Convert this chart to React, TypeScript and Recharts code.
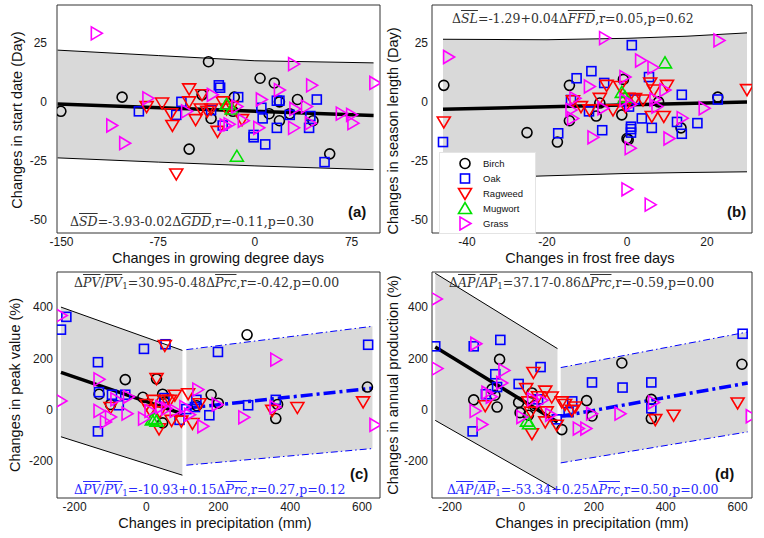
import React from 'react';
import { ComposedChart, Scatter, Line, Area, XAxis, YAxis, ReferenceArea } from 'recharts';

type P = [number, number];
type B = [number, number, number]; // x, lower, upper

const SPECIES = ['Birch', 'Oak', 'Ragweed', 'Mugwort', 'Grass'];
const COLORS = ['#000000', '#0000ff', '#ff0000', '#00e000', '#ff00ff'];
const SHAPES = ['o', 's', 'v', '^', '>'];

// (a) start date vs growing degree days
const birchA: P[] = [[-150.5, -4], [-103, 2], [-36, 17], [-41, 3], [-34, -7], [-51, -20], [-16, 2], [-17, -4], [4, 10], [15, 8], [11, -5], [19, -8], [19, 0], [33, 1], [27, -5], [45, -8], [58, -22]];
const oakA: P[] = [[-90, -4], [-57, 0], [-61, -5.5], [-28, 7], [-27, 6], [-13, 2], [-25, -10], [-1, -14], [-1, -15], [5, -2.5], [6, -7], [8, -18], [17, 0.5], [19, 0.5], [17, -11], [27, -5.5], [48, 1], [42, -11], [43, -6], [54, -25.5], [-34, -3.5]];
const ragweedA: P[] = [[-84, -2], [-72, -0.5], [-65, -5], [-64, -10], [-51, 5.5], [-51, 0], [-46, -7.5], [-42, -3], [-37, -4], [-34, -3], [-29, -12.5], [-25, 0], [-22, -3], [-18, -2], [-10, -7.5], [-61, -30.5], [-41, 3]];
const mugwortA: P[] = [[-22, -1], [-18, -3], [-14, -23]];
const grassA: P[] = [[-123, 29], [-111, -10], [-101, -17.5], [-83, 1.5], [-53, -4], [-33, 3], [-23, -10], [-20, -9.5], [-14, -2], [-9, -8], [3, -11], [5, 1], [19, 5], [30, 16], [44, 7], [30, -11], [31, -3], [40, -2], [43, -9], [67, -5], [75, -5.5], [76, -9], [93, 8]];
const bandA: B[] = [[-153, -23.7, 21.9], [-75, -25.5, 19.6], [0, -27.1, 17.4], [92, -28.7, 16.5]];
const fitA: P[] = [[-153, -0.9], [92, -5.8]];

// (b) season length vs frost free days
const birchB: P[] = [[-45.8, 7], [-25, -13], [-17.4, -17], [-14.4, 7], [-14.4, -8], [-7.7, -6], [-6.8, -0.5], [-1.3, -5.5], [-0.9, 9.5], [0, -15.5], [0.3, -16], [7.9, 0], [13.5, -11], [22.7, 2]];
const oakB: P[] = [[-46, -17], [-17.2, -13.3], [-14, 0.8], [-12.6, 10], [-8.9, 13], [-9.5, -4], [-5.7, 8], [-6.2, -12], [1.2, 24], [0.5, -2], [1, -10.5], [1, -11.5], [1, -13], [3.7, -7], [5.5, 10.5], [6.2, -11], [12.5, -8.5], [13.7, 3], [13.7, -13.5], [17.6, -9], [22.7, 1], [2, 1]];
const ragweedB: P[] = [[-45.8, -8.5], [-13.5, 0.5], [-11.5, -2], [-9.4, -3.4], [-6.8, 1.5], [-5.1, 7], [-3.5, -3.4], [-1.7, 6.5], [-0.4, -2], [0.3, 1.5], [2, 1.4], [4, 0.8], [5.8, 8], [6.7, 5], [6.2, -6.2], [9.2, -6.2], [10, 7], [30, 5.2]];
const mugwortB: P[] = [[9.5, 16.5], [-1.3, 4], [-0.5, 2]];
const grassB: P[] = [[-44.6, 19], [-5.6, 27], [3.4, 17.5], [6.5, 14.5], [-0.5, 10.5], [-9.4, 6.5], [-13, 1.5], [-14, -3.4], [-13.6, -7], [-6, -2.7], [-0.5, 0.8], [1, -1], [7.5, -2], [7, 1], [9.5, 5], [13.8, -6.9], [19.3, -2.7], [-8.5, -15], [0.8, -19.6], [10.5, -15.5], [0, -37], [5.8, -43.5], [23, 26]];
const bandB: B[] = [[-46, -32.7, 26.5], [-20, -31.3, 26.3], [0, -30.3, 26.9], [15, -29.9, 27.8], [30, -29.6, 29.2]];
const fitB: P[] = [[-46, -3.1], [30, -0.1]];

// (c) peak value vs precipitation
const birchC: P[] = [[-132, 60], [-100, 20], [-59, 117], [-10, 48], [28, 120], [45, 60], [45, -52], [50, 30], [140, 15], [180, 58], [200, 25], [280, 292], [360, -35], [365, 20], [615, 88]];
const oakC: P[] = [[-238, 312], [-223, 362], [-135, 185], [-135, -85], [-132, 68], [-96, 58], [-59, 58], [-77, 17], [-7, 237], [53, 255], [50, 45], [92, -40], [111, 2], [139, 38], [135, 10], [175, -22], [199, 225], [283, 17], [360, 38], [617, 253]];
const ragweedC: P[] = [[-100, 8], [0, 20], [10, -3], [19, 36], [28, 121], [37, -9], [35, -75], [51, 250], [56, 36], [65, 36], [70, -42], [79, 56], [97, -45], [116, 62], [128, -54], [148, 23], [350, -3], [420, 8], [603, 30]];
const mugwortC: P[] = [[15, -40], [23, -35], [28, -45]];
const grassC: P[] = [[-237, 367], [-238, 34], [-132, 118], [-132, -5], [-114, -48], [-100, -29], [-85, 40], [-54, -16], [-50, 50], [-8, -35], [10, -5], [40, 10], [56, 4], [80, -5], [107, 10], [120, -20], [143, 78], [157, -65], [197, 20], [271, -30], [360, 195], [358, 10], [636, -60]];
const bandC1: B[] = [[-238, -106, 400], [100, -256, 231]];
const fitC1: P[] = [[-238, 145], [100, -17]];
const bandC2: B[] = [[111, -217, 234], [629, -152, 325]];
const fitC2: P[] = [[111, 5.7], [629, 83.4]];

// (d) annual production vs precipitation
const birchD: P[] = [[-134, 38], [-83, 80], [-75, 56], [-69, 10], [-62, 196], [-9, 28], [-5, -12], [18, -22], [28, 65], [35, 15], [111, -78], [180, 35], [195, -25], [278, 182], [360, 40], [360, -35], [612, 177]];
const oakD: P[] = [[-241, 247], [-134, 247], [-60, 272], [-74, 138], [-69, 88], [-100, 60], [-9, 100], [52, 166], [45, 40], [-137, -85], [97, -38], [130, -10], [140, 32], [195, 106], [280, 86], [360, 106], [360, 5], [614, 296]];
const ragweedD: P[] = [[-102, 15], [12, 82], [18, 30], [25, -10], [28, -94], [32, 145], [45, 50], [65, 72], [69, -9], [65, -48], [83, 49], [97, -61], [111, 30], [120, 20], [139, -3], [148, 10], [371, -39], [422, -22], [600, 26]];
const mugwortD: P[] = [[14, -45], [20, -55]];
const grassD: P[] = [[-238, 432], [-236, 160], [-128, 257], [-130, -5], [-111, -58], [-97, 66], [-56, 104], [-50, 153], [-85, 50], [0, -29], [30, 40], [56, 36], [80, -20], [157, -74], [178, -74], [194, -16], [273, -16], [366, 28], [638, -26]];
const bandD1: B[] = [[-241, -42, 532], [99, -314, 238]];
const fitD1: P[] = [[-241, 244], [99, -48]];
const bandD2: B[] = [[108, -208, 164], [628, -87, 303]];
const fitD2: P[] = [[108, -26], [628, 104]];

const toXY = (pts: P[]) => pts.map(([x, y]) => ({ x, y }));
const toBand = (pts: B[]) => pts.map(([x, lo, hi]) => ({ x, lo, hi, range: [lo, hi] }));

function shapePath(kind: string, cx: number, cy: number, color: string) {
  const common = { fill: 'none', stroke: color, strokeWidth: 1.6 };
  if (kind === 'o') return <circle cx={cx} cy={cy} r={5} {...common} />;
  if (kind === 's') return <rect x={cx - 4.5} y={cy - 4.5} width={9} height={9} {...common} />;
  if (kind === 'v') return <polygon points={`${cx - 6.5},${cy - 5} ${cx + 6.5},${cy - 5} ${cx},${cy + 6}`} {...common} />;
  if (kind === '^') return <polygon points={`${cx - 6.5},${cy + 5} ${cx + 6.5},${cy + 5} ${cx},${cy - 6}`} {...common} />;
  return <polygon points={`${cx - 5},${cy - 6.5} ${cx - 5},${cy + 6.5} ${cx + 6},${cy}`} {...common} />;
}

const marker = (kind: string, color: string) => (props: any) => {
  const { cx, cy } = props;
  if (cx == null || cy == null) return <g />;
  return shapePath(kind, cx, cy, color);
};

type BandSpec = { pts: B[]; edge: string; dash?: string };
type FitSpec = { pts: P[]; color: string; dash?: string };

function Panel(props: {
  left: number; top: number; width: number; height: number;
  margin: { top: number; right: number; bottom: number; left: number };
  yw: number; xh: number;
  xDomain: [number, number]; yDomain: [number, number];
  xTicks: number[]; yTicks: number[];
  yTickMargin: number; xTickMargin: number;
  groups: P[][]; bands: BandSpec[]; fits: FitSpec[];
}) {
  const p = props;
  const tick = { fontSize: 12, fill: '#1a1a1a', fontFamily: 'Liberation Sans, Arial, sans-serif' };
  return (
    <div style={{ position: 'absolute', left: p.left, top: p.top }}>
      <ComposedChart width={p.width} height={p.height} margin={p.margin}>
        <XAxis type="number" dataKey="x" domain={p.xDomain} ticks={p.xTicks} allowDataOverflow interval={0}
          axisLine={false} tickLine={false} tickSize={0} tickMargin={p.xTickMargin} height={p.xh} tick={tick} />
        <YAxis type="number" dataKey="y" domain={p.yDomain} ticks={p.yTicks} allowDataOverflow interval={0}
          axisLine={false} tickLine={false} tickSize={0} tickMargin={p.yTickMargin} width={p.yw} tick={tick} />
        {p.bands.map((b, i) => (
          <Area key={'area' + i} data={toBand(b.pts)} dataKey="range" type="linear" fill="#d9d9d9" fillOpacity={1}
            stroke="none" isAnimationActive={false} activeDot={false} />
        ))}
        {p.bands.map((b, i) => (
          <Line key={'lo' + i} data={toBand(b.pts)} dataKey="lo" type="linear" stroke={b.edge} strokeWidth={1}
            strokeDasharray={b.dash} dot={false} activeDot={false} isAnimationActive={false} />
        ))}
        {p.bands.map((b, i) => (
          <Line key={'hi' + i} data={toBand(b.pts)} dataKey="hi" type="linear" stroke={b.edge} strokeWidth={1}
            strokeDasharray={b.dash} dot={false} activeDot={false} isAnimationActive={false} />
        ))}
        {p.fits.map((f, i) => (
          <Line key={'fit' + i} data={toXY(f.pts)} dataKey="y" type="linear" stroke={f.color} strokeWidth={3.5}
            strokeDasharray={f.dash} dot={false} activeDot={false} isAnimationActive={false} />
        ))}
        {p.groups.map((g, i) => (
          <Scatter key={'s' + i} name={SPECIES[i]} data={toXY(g)} dataKey="y" shape={marker(SHAPES[i], COLORS[i])}
            isAnimationActive={false} />
        ))}
        <ReferenceArea x1={p.xDomain[0]} x2={p.xDomain[1]} y1={p.yDomain[0]} y2={p.yDomain[1]} fill="none"
          stroke="#333" strokeWidth={1} ifOverflow="visible" />
      </ComposedChart>
    </div>
  );
}

const ov = (s: string) => <span style={{ textDecoration: 'overline', fontStyle: 'italic' }}>{s}</span>;
const sub1 = <span style={{ fontSize: '70%', verticalAlign: '-0.25em' }}>1</span>;

function Eq({ left, top, color, children }: { left: number; top: number; color: string; children: React.ReactNode }) {
  return (
    <div style={{ position: 'absolute', left, top, color, fontFamily: 'DejaVu Serif, serif', fontSize: 12.5, lineHeight: '16px', whiteSpace: 'nowrap' }}>
      {children}
    </div>
  );
}

function XLabel({ cx, cy, text }: { cx: number; cy: number; text: string }) {
  return (
    <div style={{ position: 'absolute', left: cx - 200, top: cy - 7, width: 400, textAlign: 'center', fontSize: 14.5, lineHeight: '14px', whiteSpace: 'nowrap' }}>{text}</div>
  );
}

function YLabel({ cx, cy, text }: { cx: number; cy: number; text: string }) {
  return (
    <div style={{ position: 'absolute', left: cx - 150, top: cy - 8, width: 300, textAlign: 'center', fontSize: 14.5, lineHeight: '16px', whiteSpace: 'nowrap', transform: 'rotate(-90deg)' }}>{text}</div>
  );
}

function Tag({ left, cy, text }: { left: number; cy: number; text: string }) {
  return <div style={{ position: 'absolute', left, top: cy - 8, fontSize: 15, fontWeight: 'bold', lineHeight: '16px' }}>{text}</div>;
}

function LegendBox() {
  return (
    <div style={{ position: 'absolute', left: 439, top: 152, width: 95, height: 80, background: '#fff', border: '1px solid #e4e4e4' }}>
      {SPECIES.map((s, i) => (
        <div key={s} style={{ position: 'absolute', left: 0, top: 3 + i * 15, height: 15, width: 95 }}>
          <svg width={18} height={15} style={{ position: 'absolute', left: 16, top: 0 }}>
            {shapePath(SHAPES[i], 9, 7.5, COLORS[i])}
          </svg>
          <span style={{ position: 'absolute', left: 43, top: 1, fontSize: 9.5, lineHeight: '13px' }}>{s}</span>
        </div>
      ))}
    </div>
  );
}

const blueDash = '7 3 1.5 3';
const blueThick = '12 4 3 4';

export default function App() {
  return (
    <div style={{ position: 'absolute', left: 0, top: 0, width: 764, height: 538, background: '#fff', fontFamily: 'Liberation Sans, Arial, sans-serif', color: '#111', overflow: 'hidden' }}>
      <Panel left={0} top={0} width={382} height={260} margin={{ top: 5, right: 2, bottom: 0, left: 0 }} yw={57} xh={27}
        xDomain={[-153.5, 97]} yDomain={[-55.5, 41]} xTicks={[-150, -75, 0, 75]} yTicks={[-50, -25, 0, 25]}
        yTickMargin={10} xTickMargin={4}
        groups={[birchA, oakA, ragweedA, mugwortA, grassA]}
        bands={[{ pts: bandA, edge: '#000' }]} fits={[{ pts: fitA, color: '#000' }]} />
      <Panel left={382} top={0} width={382} height={260} margin={{ top: 5, right: 12, bottom: 0, left: 0 }} yw={50} xh={27}
        xDomain={[-48.75, 31.25]} yDomain={[-55.5, 41]} xTicks={[-40, -20, 0, 20]} yTicks={[-50, -25, 0, 25]}
        yTickMargin={4} xTickMargin={4}
        groups={[birchB, oakB, ragweedB, mugwortB, grassB]}
        bands={[{ pts: bandB, edge: '#000' }]} fits={[{ pts: fitB, color: '#000' }]} />
      <Panel left={0} top={260} width={382} height={278} margin={{ top: 12, right: 2, bottom: 0, left: 0 }} yw={57} xh={40}
        xDomain={[-249, 650]} yDomain={[-345, 537]} xTicks={[-200, 0, 200, 400, 600]} yTicks={[-200, 0, 200, 400]}
        yTickMargin={4} xTickMargin={4}
        groups={[birchC, oakC, ragweedC, mugwortC, grassC]}
        bands={[{ pts: bandC1, edge: '#000' }, { pts: bandC2, edge: '#0000ff', dash: blueDash }]}
        fits={[{ pts: fitC1, color: '#000' }, { pts: fitC2, color: '#0000ff', dash: blueThick }]} />
      <Panel left={382} top={260} width={382} height={278} margin={{ top: 12, right: 12, bottom: 0, left: 0 }} yw={50} xh={40}
        xDomain={[-250, 640]} yDomain={[-345, 537]} xTicks={[-200, 0, 200, 400, 600]} yTicks={[-200, 0, 200, 400]}
        yTickMargin={4} xTickMargin={4}
        groups={[birchD, oakD, ragweedD, mugwortD, grassD]}
        bands={[{ pts: bandD1, edge: '#000' }, { pts: bandD2, edge: '#0000ff', dash: blueDash }]}
        fits={[{ pts: fitD1, color: '#000' }, { pts: fitD2, color: '#0000ff', dash: blueThick }]} />

      <LegendBox />

      <Eq left={70} top={214} color="#333">Δ{ov('SD')}=-3.93-0.02Δ{ov('GDD')},r=-0.11,p=0.30</Eq>
      <Eq left={452} top={11} color="#333">Δ{ov('SL')}=-1.29+0.04Δ{ov('FFD')},r=0.05,p=0.62</Eq>
      <Eq left={74} top={275} color="#333">Δ{ov('PV')}/{ov('PV')}{sub1}=30.95-0.48Δ{ov('Prc')},r=-0.42,p=0.00</Eq>
      <Eq left={74} top={482} color="#2a2aff">Δ{ov('PV')}/{ov('PV')}{sub1}=-10.93+0.15Δ{ov('Prc')},r=0.27,p=0.12</Eq>
      <Eq left={449} top={275} color="#333">Δ{ov('AP')}/{ov('AP')}{sub1}=37.17-0.86Δ{ov('Prc')},r=-0.59,p=0.00</Eq>
      <Eq left={447} top={482} color="#2a2aff">Δ{ov('AP')}/{ov('AP')}{sub1}=-53.34+0.25Δ{ov('Prc')},r=0.50,p=0.00</Eq>

      <Tag left={348} cy={212} text="(a)" />
      <Tag left={727} cy={212} text="(b)" />
      <Tag left={350} cy={474} text="(c)" />
      <Tag left={715} cy={474} text="(d)" />

      <XLabel cx={218} cy={258} text="Changes in growing degree days" />
      <XLabel cx={590} cy={258} text="Changes in frost free days" />
      <XLabel cx={215} cy={523} text="Changes in precipitation (mm)" />
      <XLabel cx={592} cy={523} text="Changes in precipitation (mm)" />
      <YLabel cx={17} cy={120} text="Changes in start date (Day)" />
      <YLabel cx={393} cy={131} text="Changes in season length (Day)" />
      <YLabel cx={15} cy={385} text="Changes in peak value (%)" />
      <YLabel cx={393} cy={385} text="Changes in annual production (%)" />
    </div>
  );
}
